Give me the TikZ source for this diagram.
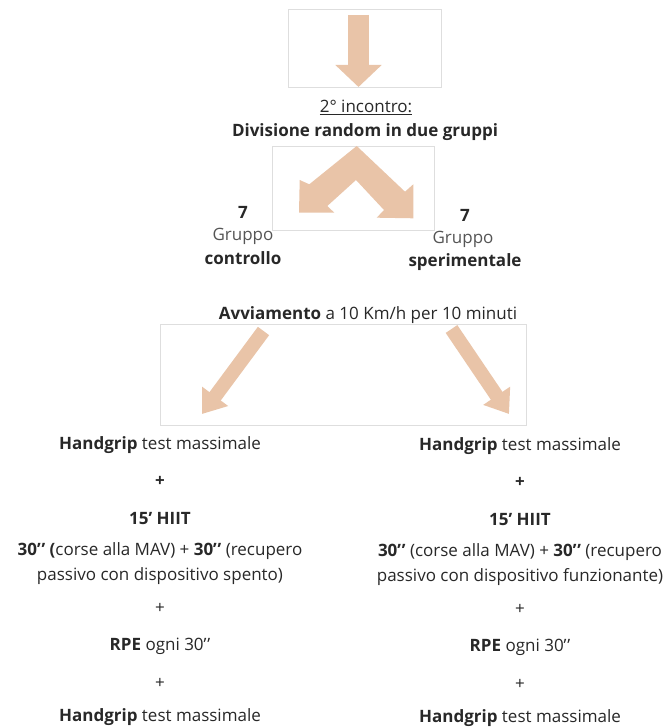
\documentclass[tikz,border=0pt]{standalone}
\usepackage{fontspec}
\setmainfont{Open Sans}
\usetikzlibrary{arrows.meta}
\definecolor{peach}{RGB}{233,196,168}
\definecolor{boxgray}{RGB}{222,222,222}
\definecolor{txt}{RGB}{40,40,40}
\definecolor{txtlight}{RGB}{85,85,85}
\newcommand{\dq}{’\kern0.8pt’}
\tikzset{
  panel/.style={draw=boxgray, line width=0.7pt},
  chevron/.style={fill=peach, draw=none},
  lbl/.style={text=txt, font=\fontsize{17}{25}\selectfont, inner sep=0pt, align=center},
  lbllight/.style={text=txtlight, font=\fontsize{17}{25}\selectfont, inner sep=0pt, align=center},
}
\begin{document}
\begin{tikzpicture}[x=1pt,y=-1pt]
\useasboundingbox (0,0) rectangle (670,727);
\fill[white] (0,0) rectangle (670,727);

% panel 1 with down arrow
\draw[panel] (288,9) rectangle (441,87);
\coordinate (a1s) at (358.5,15);
\coordinate (a1e) at (358.5,87);
\draw[draw=peach, line width=21pt, -{Triangle[length=22pt,width=45pt]}] (a1s) -- (a1e);

\node[lbl] (inc) at (366,107) {\underline{2° incontro:}};
\node[lbl] (div) at (365,132) {\bfseries Divisione random in due gruppi};

% panel 2 with chevron
\draw[panel] (272.5,146.5) rectangle (434,230);
\fill[chevron] (356.7,146) -- (309.3,184.3) -- (299.7,180) -- (299,212.7) -- (334.3,212.7)
  -- (327.3,206) -- (356,180) -- (384,210) -- (376.7,217.7) -- (413.3,218.3)
  -- (413.3,184.3) -- (405,191.7) -- cycle;

\node[lbl] (n7l) at (243,212) {\bfseries 7};
\node[lbllight] (grl) at (243,236) {Gruppo};
\node[lbl] (col) at (243,258) {\bfseries controllo};
\node[lbl] (n7r) at (465,215) {\bfseries 7};
\node[lbllight] (grr) at (463,239) {Gruppo};
\node[lbl] (spr) at (465,262) {\bfseries sperimentale};

\node[lbl] (avv) at (368,315) {\textbf{Avviamento} a 10 Km/h per 10 minuti};

% panel 3 with two arrows
\draw[panel] (160,324.5) rectangle (526.5,425);
\coordinate (a2s) at (263.5,331);
\coordinate (a2e) at (202,414);
\draw[draw=peach, line width=14pt, -{Triangle[length=22pt,width=31pt]}] (a2s) -- (a2e);
\coordinate (a3s) at (451.5,329);
\coordinate (a3e) at (509,414);
\draw[draw=peach, line width=14pt, -{Triangle[length=22pt,width=31pt]}] (a3s) -- (a3e);

% left column
\node[lbl] (l1) at (160,445) {\textbf{Handgrip} test massimale};
\node[lbl] (l2) at (160,481) {\bfseries +};
\node[lbl] (l3) at (160,519) {\bfseries 15’ HIIT};
\node[lbl] (l4) at (160,563.5) {\textbf{30\dq\ (}corse alla MAV) + \textbf{30\dq} (recupero\\passivo con dispositivo spento)};
\node[lbl] (l5) at (160,608) {+};
\node[lbl] (l6) at (160,646) {\textbf{RPE} ogni 30\dq};
\node[lbl] (l7) at (160,683) {+};
\node[lbl] (l8) at (160,717) {\textbf{Handgrip} test massimale};

% right column
\node[lbl] (r1) at (520,446) {\textbf{Handgrip} test massimale};
\node[lbl] (r2) at (520,482) {\bfseries +};
\node[lbl] (r3) at (520,520) {\bfseries 15’ HIIT};
\node[lbl] (r4) at (520,564.5) {\textbf{30\dq} (corse alla MAV) + \textbf{30\dq} (recupero\\passivo con dispositivo funzionante)};
\node[lbl] (r5) at (520,609) {+};
\node[lbl] (r6) at (520,647) {\textbf{RPE} ogni 30\dq};
\node[lbl] (r7) at (520,684) {+};
\node[lbl] (r8) at (520,718) {\textbf{Handgrip} test massimale};
\end{tikzpicture}
\end{document}
